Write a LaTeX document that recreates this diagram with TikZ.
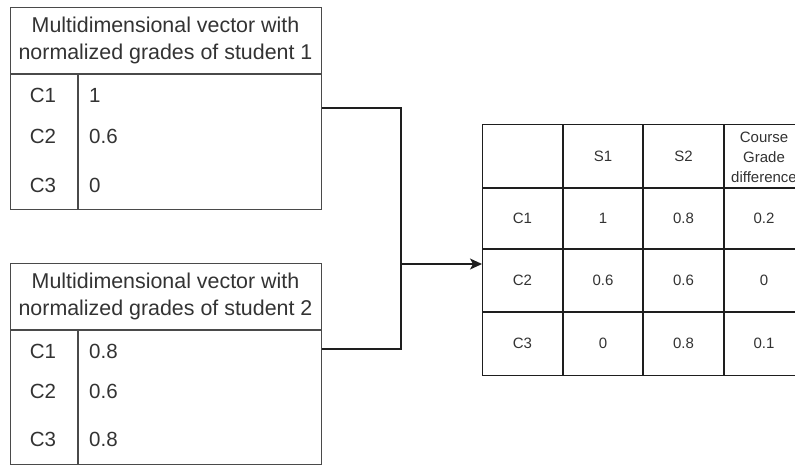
\documentclass[tikz,border=0pt]{standalone}
\usepackage{fontspec}
\setmainfont{Liberation Sans}
\usetikzlibrary{arrows.meta,calc}
\definecolor{boxline}{HTML}{4A4A4A}
\definecolor{txt}{HTML}{333333}
\definecolor{tblline}{HTML}{1E1E1E}
\begin{document}
\begin{tikzpicture}[x=1pt,y=-1pt,
  vbox/.style={draw=boxline,line width=1.3pt,rectangle,anchor=north west,inner sep=0pt},
  title/.style={text=txt,font=\fontsize{21.4}{27}\selectfont,align=center,inner sep=0pt},
  big/.style={text=txt,font=\fontsize{20.5}{24}\selectfont,inner sep=0pt},
  small/.style={text=txt,font=\fontsize{15}{20}\selectfont,inner sep=0pt,align=center},
  conn/.style={draw=tblline,line width=1.3pt},
  tline/.style={draw=tblline,line width=1.3pt}]
\useasboundingbox (0,0) rectangle (795,467);
\fill[white] (0,0) rectangle (795,467);

% Box 1
\node[vbox,minimum width=311pt,minimum height=202pt] (b1) at (10,7) {};
\draw[boxline,line width=1.3pt] (10,74) -- (321,74);
\draw[boxline,line width=1.3pt] (78,74) -- (78,209);
\node[title] (b1t) at (165.5,40) {Multidimensional vector with\\normalized grades of student 1};
\node[big] (b1c1) at (43,95) {C1};
\node[big] (b1c2) at (43,136) {C2};
\node[big] (b1c3) at (43,185) {C3};
\node[big,anchor=west] (b1v1) at (89,95) {1};
\node[big,anchor=west] (b1v2) at (89,136) {0.6};
\node[big,anchor=west] (b1v3) at (89,185) {0};

% Box 2
\node[vbox,minimum width=311pt,minimum height=201pt] (b2) at (10,263) {};
\draw[boxline,line width=1.3pt] (10,330) -- (321,330);
\draw[boxline,line width=1.3pt] (78,330) -- (78,464);
\node[title] (b2t) at (165.5,296) {Multidimensional vector with\\normalized grades of student 2};
\node[big] (b2c1) at (43,351) {C1};
\node[big] (b2c2) at (43,391) {C2};
\node[big] (b2c3) at (43,439) {C3};
\node[big,anchor=west] (b2v1) at (89,351) {0.8};
\node[big,anchor=west] (b2v2) at (89,391) {0.6};
\node[big,anchor=west] (b2v3) at (89,439) {0.8};

% Table
\node[draw=tblline,line width=1.3pt,rectangle,anchor=north west,inner sep=0pt,
      minimum width=322pt,minimum height=251pt] (tbl) at (482,124) {};
\foreach \x in {563,643,724} \draw[tline] (\x,124) -- (\x,375);
\foreach \y in {188,249,312} \draw[tline] (482,\y) -- (804,\y);
\node[small] (h1) at (603,156) {S1};
\node[small] (h2) at (683.5,156) {S2};
\node[small] (h3) at (764,157) {Course\\Grade\\difference};
\node[small] (r1) at (522.5,218.5) {C1};
\node[small] (r2) at (522.5,280.5) {C2};
\node[small] (r3) at (522.5,343.5) {C3};
\node[small] (a11) at (603,218.5) {1};
\node[small] (a12) at (683.5,218.5) {0.8};
\node[small] (a13) at (764,218.5) {0.2};
\node[small] (a21) at (603,280.5) {0.6};
\node[small] (a22) at (683.5,280.5) {0.6};
\node[small] (a23) at (764,280.5) {0};
\node[small] (a31) at (603,343.5) {0};
\node[small] (a32) at (683.5,343.5) {0.8};
\node[small] (a33) at (764,343.5) {0.1};

% Connectors
\coordinate (j1) at (401,108);
\coordinate (j2) at (401,349);
\coordinate (jm) at (401,264);
\draw[conn] (b1.east |- j1) -- (j1) -- (j2) -- (b2.east |- j2);
\draw[conn,-{Stealth[length=12pt,width=11pt,inset=3pt]}] (jm) -- (tbl.west |- jm);
\end{tikzpicture}
\end{document}
